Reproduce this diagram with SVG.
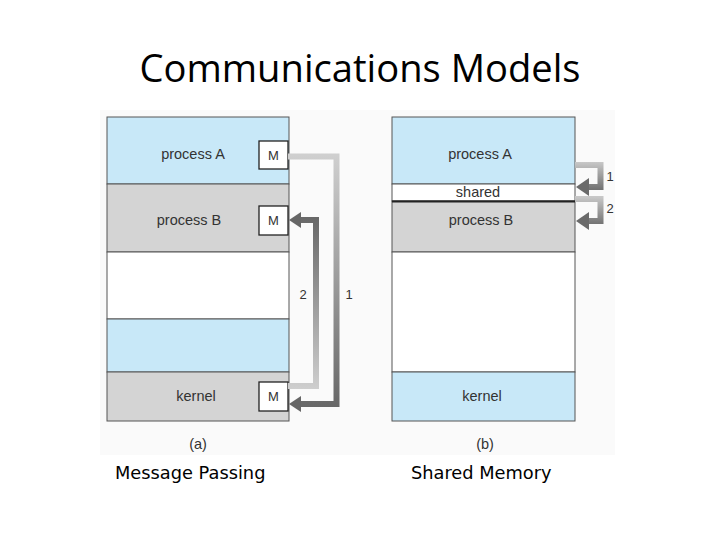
<svg xmlns="http://www.w3.org/2000/svg" width="720" height="540" viewBox="0 0 720 540">
<style>
.blue{fill:#c8e8f8;stroke:#555;stroke-width:1}
.gray{fill:#d4d4d4;stroke:#555;stroke-width:1}
.white{fill:#ffffff;stroke:#555;stroke-width:1}
.lbl{font-family:"Liberation Sans",Arial,sans-serif;font-size:14.5px;fill:#333;text-anchor:middle}
.m{font-family:"Liberation Sans",Arial,sans-serif;font-size:13px;fill:#333;text-anchor:middle}
.mbox{fill:#fff;stroke:#222;stroke-width:1.3}
.num{font-family:"Liberation Sans",Arial,sans-serif;font-size:13px;fill:#333;text-anchor:middle}
.cap{font-family:"DejaVu Sans",Verdana,sans-serif;font-size:17.8px;fill:#000}
</style>
<defs>
<linearGradient id="g1" gradientUnits="userSpaceOnUse" x1="0" y1="155" x2="0" y2="410">
<stop offset="0" stop-color="#cfcfcf"/><stop offset="1" stop-color="#666"/>
</linearGradient>
<linearGradient id="g2" gradientUnits="userSpaceOnUse" x1="0" y1="390" x2="0" y2="215">
<stop offset="0" stop-color="#cfcfcf"/><stop offset="1" stop-color="#666"/>
</linearGradient>
<linearGradient id="g3" gradientUnits="userSpaceOnUse" x1="0" y1="162" x2="0" y2="192">
<stop offset="0" stop-color="#c8c8c8"/><stop offset="1" stop-color="#6a6a6a"/>
</linearGradient>
<linearGradient id="g4" gradientUnits="userSpaceOnUse" x1="0" y1="197" x2="0" y2="227">
<stop offset="0" stop-color="#c8c8c8"/><stop offset="1" stop-color="#6a6a6a"/>
</linearGradient>
</defs>
<rect width="720" height="540" fill="#fff"/>
<rect x="100" y="110" width="515" height="345" fill="#fafafa"/>
<text x="360" y="82" font-family="'Open Sans','Liberation Sans',sans-serif" font-size="38" text-anchor="middle" textLength="441" lengthAdjust="spacingAndGlyphs" fill="#000">Communications Models</text>

<g id="panel-a">
<g id="a-processA"><rect class="blue" x="107" y="117" width="182" height="67"/><text class="lbl" x="193" y="159">process A</text></g>
<g id="a-processB"><rect class="gray" x="107" y="184" width="182" height="68"/><text class="lbl" x="189" y="225">process B</text></g>
<g id="a-free"><rect class="white" x="107" y="252" width="182" height="67"/></g>
<g id="a-blue"><rect class="blue" x="107" y="319" width="182" height="53"/></g>
<g id="a-kernel"><rect class="gray" x="107" y="372" width="182" height="49"/><text class="lbl" x="196" y="401">kernel</text></g>
<g id="a-MA"><rect class="mbox" x="259" y="141" width="29" height="28"/><text class="m" x="273.5" y="160">M</text></g>
<g id="a-MB"><rect class="mbox" x="259" y="206" width="29" height="29"/><text class="m" x="273.5" y="225">M</text></g>
<g id="a-MK"><rect class="mbox" x="259" y="382" width="29" height="29"/><text class="m" x="273.5" y="401">M</text></g>
<text class="lbl" x="198" y="449">(a)</text>
</g>

<g id="panel-b">
<g id="b-processA"><rect class="blue" x="392" y="117" width="183" height="67"/><text class="lbl" x="480" y="159">process A</text></g>
<g id="b-shared"><rect class="white" x="392" y="184" width="183" height="17"/><text class="lbl" x="478" y="197">shared</text></g>
<g id="b-processB"><rect class="gray" x="392" y="201" width="183" height="51"/><line x1="392" y1="201.5" x2="575" y2="201.5" stroke="#222" stroke-width="2"/><text class="lbl" x="481" y="225">process B</text></g>
<g id="b-free"><rect class="white" x="392" y="252" width="183" height="120"/></g>
<g id="b-kernel"><rect class="blue" x="392" y="372" width="183" height="49"/><text class="lbl" x="482" y="401">kernel</text></g>
<text class="lbl" x="485" y="449">(b)</text>
</g>

<g id="connectors" fill="none">
<path d="M288 156.5 H336.5 V404 H299" stroke="url(#g1)" stroke-width="6"/>
<polygon points="289,404 301,396 301,412" fill="#666"/>
<path d="M288 386 H316 V220 H299" stroke="url(#g2)" stroke-width="6"/>
<polygon points="289,220 301,212 301,228" fill="#666"/>
<path d="M575 165 H600.5 V187 H587" stroke="url(#g3)" stroke-width="6"/>
<polygon points="576,187 589,178 589,196" fill="#6a6a6a"/>
<path d="M575 199 H600.5 V221 H587" stroke="url(#g4)" stroke-width="6"/>
<polygon points="576,221 589,212 589,230" fill="#6a6a6a"/>
</g>
<text class="num" x="303" y="299">2</text>
<text class="num" x="349" y="299">1</text>
<text class="num" x="610" y="181">1</text>
<text class="num" x="610" y="213">2</text>

<text class="cap" x="115" y="479">Message Passing</text>
<text class="cap" x="411" y="479">Shared Memory</text>
</svg>
